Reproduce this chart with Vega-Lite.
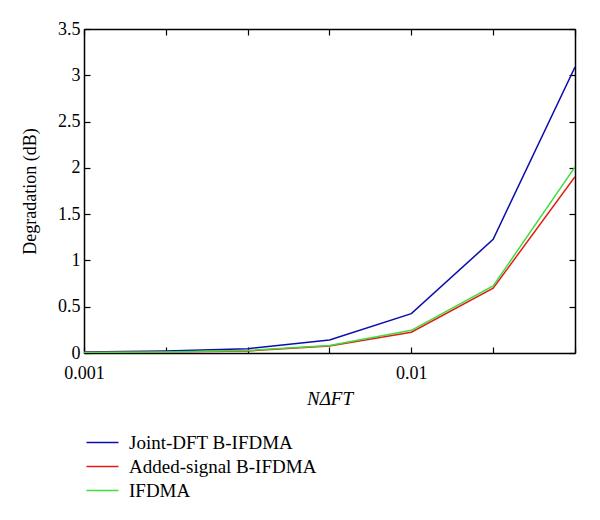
{
  "$schema": "https://vega.github.io/schema/vega-lite/v6.json",
  "width": 491,
  "height": 324,
  "autosize": "none",
  "padding": {"left": 84, "top": 29, "right": 25, "bottom": 167},
  "background": "white",
  "config": {
    "view": {"stroke": null},
    "font": "Liberation Serif",
    "axis": {"grid": false, "domainColor": "black", "domainWidth": 1.5, "tickColor": "black", "tickWidth": 1.2, "labelColor": "black", "titleColor": "black", "labelFont": "Liberation Serif", "titleFont": "Liberation Serif", "labelFontSize": 18, "titleFontSize": 18, "titleFontWeight": "normal"}
  },
  "data": {"values": [
    {"series": "Joint-DFT B-IFDMA", "x": 0.001, "y": 0.01},
    {"series": "Joint-DFT B-IFDMA", "x": 0.00177828, "y": 0.022},
    {"series": "Joint-DFT B-IFDMA", "x": 0.00316228, "y": 0.046},
    {"series": "Joint-DFT B-IFDMA", "x": 0.00562341, "y": 0.14},
    {"series": "Joint-DFT B-IFDMA", "x": 0.01, "y": 0.425},
    {"series": "Joint-DFT B-IFDMA", "x": 0.0177828, "y": 1.228},
    {"series": "Joint-DFT B-IFDMA", "x": 0.0316228, "y": 3.09},
    {"series": "Added-signal B-IFDMA", "x": 0.001, "y": 0.005},
    {"series": "Added-signal B-IFDMA", "x": 0.00177828, "y": 0.01},
    {"series": "Added-signal B-IFDMA", "x": 0.00316228, "y": 0.022},
    {"series": "Added-signal B-IFDMA", "x": 0.00562341, "y": 0.075},
    {"series": "Added-signal B-IFDMA", "x": 0.01, "y": 0.225},
    {"series": "Added-signal B-IFDMA", "x": 0.0177828, "y": 0.70},
    {"series": "Added-signal B-IFDMA", "x": 0.0316228, "y": 1.905},
    {"series": "IFDMA", "x": 0.001, "y": 0.006},
    {"series": "IFDMA", "x": 0.00177828, "y": 0.012},
    {"series": "IFDMA", "x": 0.00316228, "y": 0.028},
    {"series": "IFDMA", "x": 0.00562341, "y": 0.08},
    {"series": "IFDMA", "x": 0.01, "y": 0.245},
    {"series": "IFDMA", "x": 0.0177828, "y": 0.724},
    {"series": "IFDMA", "x": 0.0316228, "y": 2.01}
  ]},
  "layer": [
    {
      "mark": {"type": "line", "strokeWidth": 1.5, "clip": true},
      "encoding": {
        "x": {"field": "x", "type": "quantitative",
          "scale": {"type": "log", "domain": [0.001, 0.0316228], "nice": false},
          "axis": {"values": [0.001, 0.00177828, 0.00316228, 0.00562341, 0.01, 0.0177828, 0.0316228],
            "labelExpr": "abs(log(datum.value)/LN10 + 3) < 0.01 ? '0.001' : (abs(log(datum.value)/LN10 + 2) < 0.01 ? '0.01' : '')",
            "tickSize": -6, "labelPadding": 17, "labelFlush": false, "labelOverlap": false,
            "title": "NΔFT", "titleFontStyle": "italic", "titleFontSize": 19, "titlePadding": 7}},
        "y": {"field": "y", "type": "quantitative",
          "scale": {"domain": [0, 3.5], "nice": false},
          "axis": {"values": [0, 0.5, 1, 1.5, 2, 2.5, 3, 3.5], "format": "~g", "tickSize": -6, "labelPadding": 10,
            "title": "Degradation (dB)", "titlePadding": 18}},
        "color": {"field": "series", "type": "nominal",
          "scale": {"domain": ["Joint-DFT B-IFDMA", "Added-signal B-IFDMA", "IFDMA"], "range": ["#0c0cae", "#e41c14", "#3ede3e"]},
          "legend": {"title": null, "orient": "none", "legendX": 1, "legendY": 404, "symbolType": "M-1,0H3", "symbolSize": 256, "symbolStrokeWidth": 1.5, "labelFont": "Liberation Serif", "labelFontSize": 19, "labelColor": "black", "labelOffset": 25, "rowPadding": 4, "labelLimit": 400}}
      }
    },
    {
      "mark": {"type": "point", "opacity": 0},
      "encoding": {
        "x": {"field": "x", "type": "quantitative",
          "axis": {"orient": "top", "values": [0.001, 0.00177828, 0.00316228, 0.00562341, 0.01, 0.0177828, 0.0316228], "labels": false, "tickSize": -6, "title": null}},
        "y": {"field": "y", "type": "quantitative",
          "axis": {"orient": "right", "values": [0, 0.5, 1, 1.5, 2, 2.5, 3, 3.5], "labels": false, "tickSize": -6, "title": null}}
      }
    }
  ],
  "resolve": {"axis": {"x": "independent", "y": "independent"}}
}
